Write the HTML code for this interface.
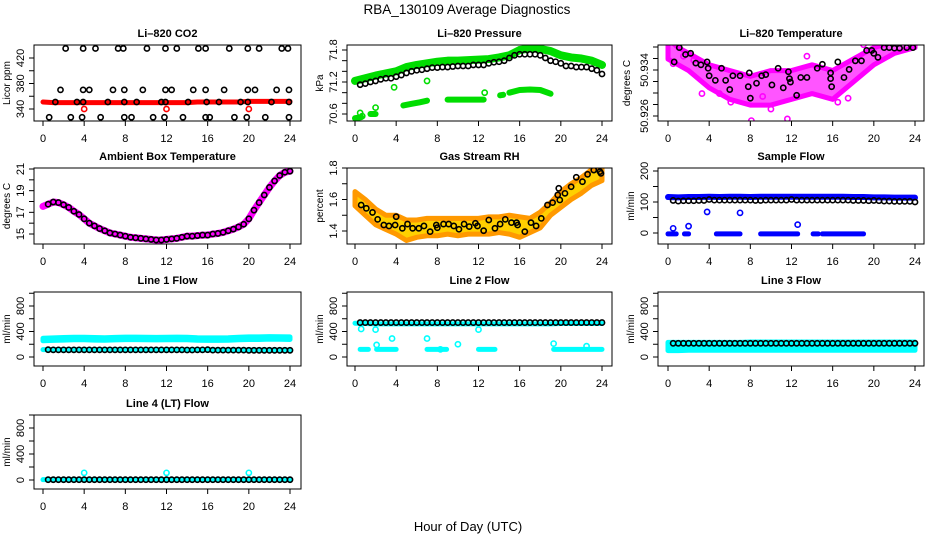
<!DOCTYPE html>
<html><head><meta charset="utf-8"><style>
body{margin:0;background:#fff;}
svg{display:block;font-family:"Liberation Sans",Arial,sans-serif;}
</style></head><body>
<svg id="c" width="936" height="540" viewBox="0 0 936 540">
<text x="467" y="14" font-size="13.5" text-anchor="middle">RBA_130109  Average Diagnostics</text>
<text x="468" y="531" font-size="13" text-anchor="middle">Hour of Day (UTC)</text>
</svg>
<script>
// ---------- data ----------
const hours = [0,1,2,3,4,5,6,7,8,9,10,11,12,13,14,15,16,17,18,19,20,21,22,23,24];
const halfHours = [0.5,1,1.5,2,2.5,3,3.5,4,4.5,5,5.5,6,6.5,7,7.5,8,8.5,9,9.5,10,10.5,11,11.5,12,12.5,13,13.5,14,14.5,15,15.5,16,16.5,17,17.5,18,18.5,19,19.5,20,20.5,21,21.5,22,22.5,23,23.5,24];
const xTicks = [0,4,8,12,16,20,24];

// CO2
const co2Red = [351,350,350,350,350,350,350,350,350,350,350,350,350,350,350,351,351,351,351,351,352,352,352,352,352];
const co2RedOutX = [4,12,20];
const co2RedOutV = [340,340,340];
const co2BlackX = [2.2,3.9,5.1,7.3,7.8,10.1,11.9,13,15.1,15.8,18.1,19.9,21,23.2,23.8,
 1.7,3.9,4.5,6.8,7.9,9.7,11.9,12.5,14.6,15.8,17.6,19.9,20.6,22.7,23.9,
 1.2,3.3,3.9,6.3,7.9,9.1,11.5,11.9,14.1,15.9,17.1,19.2,19.9,22.2,23.9,
 0.6,2.7,3.8,5.6,7.9,8.6,10.7,11.8,13.6,15.8,16.2,18.6,19.8,21.6,23.9];
const co2BlackV = [435,435,435,435,435,435,435,435,435,435,435,435,435,435,435,
 370,370,370,370,370,370,370,370,370,370,370,370,370,370,370,
 351,351,351,351,351,351,351,351,351,351,351,351,351,351,351,
 327,327,327,327,327,327,327,327,327,327,327,327,327,327,327];

// Pressure
const presGreen = [71.22,71.27,71.32,71.36,71.4,71.48,71.52,71.55,71.58,71.6,71.6,71.61,71.62,71.63,71.66,71.7,71.8,71.83,71.82,71.78,71.7,71.66,71.64,71.6,71.52];
const presLowX = [[0,0.6],[1.5,2],[4.7,5.5,6.3,7],[9,10,11,12.5],[14.1,14.4],[15,16,17,18,19]];
const presLowV = [[70.52,70.54],[70.6,70.6],[70.76,70.79,70.82,70.85],[70.87,70.87,70.87,70.87],[70.95,70.96],[71.0,71.05,71.06,71.05,70.98]];
const presOutX = [0.5,0.7,2,3.8,7,12.6];
const presOutV = [70.62,70.56,70.72,71.1,71.22,71.0];
const presBlack = [71.15,71.17,71.2,71.22,71.25,71.27,71.27,71.3,71.33,71.37,71.4,71.42,71.43,71.45,71.47,71.47,71.48,71.48,71.49,71.5,71.5,71.5,71.52,71.52,71.52,71.55,71.57,71.58,71.6,71.65,71.7,71.72,71.72,71.72,71.72,71.7,71.65,71.6,71.58,71.55,71.5,71.5,71.48,71.48,71.48,71.45,71.42,71.35];

// Li-820 temperature
const tempHi = [50.9394,50.9379,50.9369,50.9359,50.9349,50.9344,50.9339,50.9334,50.9329,50.9334,50.9339,50.9339,50.9339,50.9344,50.9349,50.9344,50.9339,50.9349,50.9359,50.9369,50.9379,50.9384,50.9389,50.9394,50.9394];
const tempLo = [50.9359,50.9349,50.9339,50.9324,50.9309,50.9299,50.9289,50.9284,50.9279,50.9279,50.9279,50.9284,50.9289,50.9294,50.9299,50.9294,50.9289,50.9304,50.9319,50.9334,50.9349,50.9359,50.9369,50.9374,50.9379];
const tempPinkX = [0.5,3.3,5,6.1,8.1,10,11.6,16.5,17.5,1.5,2.5,9.2,13.5,19];
const tempPinkV = [50.9351,50.9299,50.9299,50.9284,50.9252,50.9272,50.9255,50.9284,50.9291,50.9364,50.9357,50.9294,50.9364,50.9384];
const tempBlackX = [1.1,0.6,1.7,2.2,2.7,3.2,3.8,3.9,4,4.6,5.2,5.6,6,6.3,7,7.8,7.9,8,8.6,9.1,9.5,10.1,10.7,11.2,11.7,11.8,11.9,12.5,12.9,13.5,14.5,15,15.8,15.8,15.9,16.5,17.1,17.6,18.2,18.8,19.3,19.8,20,20.4,21,21.5,22,22.5,23.2,23.8];
const tempBlackV = [50.9379,50.9354,50.9367,50.9369,50.9352,50.9349,50.9354,50.9343,50.9330,50.9322,50.9343,50.9322,50.9306,50.9330,50.9330,50.9311,50.9335,50.9291,50.9317,50.9330,50.9332,50.9314,50.9343,50.9309,50.9337,50.9325,50.9319,50.9296,50.9327,50.9327,50.9343,50.9350,50.9335,50.9325,50.9311,50.9354,50.9327,50.9341,50.9356,50.9356,50.9374,50.9374,50.9369,50.9362,50.9379,50.9379,50.9378,50.9378,50.9379,50.9379];

// Ambient box temperature
const ambient = [17.75,17.95,17.9,17.7,17.45,17.1,16.8,16.4,16.0,15.75,15.5,15.3,15.1,15.0,14.9,14.8,14.7,14.65,14.6,14.55,14.5,14.45,14.45,14.5,14.55,14.6,14.7,14.8,14.8,14.85,14.9,14.9,15.0,15.05,15.15,15.3,15.45,15.65,15.9,16.4,17.2,17.9,18.6,19.3,19.9,20.4,20.7,20.8];

// Gas stream RH
const rhHi = [1.65,1.6,1.54,1.5,1.5,1.47,1.47,1.48,1.48,1.48,1.48,1.48,1.48,1.49,1.49,1.5,1.49,1.48,1.52,1.58,1.65,1.7,1.74,1.79,1.82];
const rhLo = [1.56,1.5,1.44,1.41,1.38,1.34,1.36,1.37,1.37,1.38,1.37,1.38,1.38,1.38,1.39,1.38,1.36,1.39,1.42,1.5,1.55,1.6,1.64,1.69,1.72];
const rhBlackX = [0.6,1.1,1.7,2.2,2.8,3.3,3.9,4,4.6,5.1,5.6,6.2,6.7,7.3,7.9,8,8.6,9.1,9.6,10.1,10.6,11.1,11.7,11.9,12.5,13,13.6,14.1,14.6,15.2,15.7,15.8,16.5,17.1,17.6,18.1,18.7,19.2,19.7,19.8,19.9,20.4,21,21.5,22.1,22.6,23.2,23.8,23.9];
const rhBlackV = [1.565,1.544,1.518,1.474,1.438,1.432,1.438,1.491,1.417,1.444,1.417,1.417,1.432,1.396,1.438,1.421,1.444,1.444,1.432,1.411,1.444,1.428,1.449,1.432,1.402,1.470,1.417,1.444,1.474,1.453,1.453,1.438,1.396,1.453,1.432,1.480,1.565,1.580,1.629,1.671,1.597,1.639,1.681,1.741,1.713,1.760,1.787,1.777,1.766];

// Sample flow
const sfBlue = [116,115,116,116,117,116,117,117,116,117,117,117,117,117,117,117,117,117,116,116,115,115,114,114,114];
const sfBlackV = [105,103,104,104,104,105,105,108,106,106,106,106,106,106,106,106,105,105,106,106,106,106,106,108,106,106,106,106,106,106,106,106,106,106,106,105,105,105,104,105,104,103,103,102,102,102,102,100];
const sfZeroX = [[0,0.8],[1.6,2.0],[4.7,7.0],[9,12.6],[14.1,14.6],[15,19]];
const sfOutX = [0.5,2,3.8,7,12.6];
const sfOutV = [15,22,68,65,27];

// Line flows
const l1Cyan = [275,280,285,290,290,285,282,288,292,292,290,288,290,292,290,282,280,280,282,290,295,295,300,298,295];
const l1Black = [115,112,112,112,112,112,112,112,112,112,112,112,112,112,112,112,112,112,112,112,112,112,112,112,112,112,112,110,110,112,112,115,108,108,108,108,108,108,108,105,105,105,105,105,105,105,105,105];
const l2Black = [540,540,540,540,540,540,540,540,540,540,540,540,540,540,540,540,540,540,540,540,540,540,540,540,540,540,540,540,540,540,540,540,540,540,540,540,540,540,540,540,540,540,540,540,540,540,540,540];
const l2Cyan = [530,525,520,520,520,520,520,520,520,520,520,520,520,520,520,520,520,520,520,520,525,525,525,525,525];
const l2LowX = [[0.5,1.3],[2.1,4.0],[7.0,8.9],[12.0,13.6],[19.3,24]];
const l2OutX = [0.6,2.0,2.1,3.6,7.0,8.3,10.0,12.0,19.3,22.5];
const l2OutV = [440,430,190,290,290,120,200,430,210,170];
const l3CyanHi = [230,230,230,230,230,230,230,230,235,235,235,235,235,235,235,235,235,235,235,235,235,235,235,235,235];
const l3CyanLo = [100,100,105,105,105,105,105,105,105,105,105,105,105,105,105,105,105,105,105,105,105,105,105,105,105];
const l3Black = [215,215,215,215,215,215,215,215,215,215,215,215,215,215,215,215,215,215,215,215,215,215,215,215,215,215,215,215,215,215,215,215,215,215,215,215,215,215,215,215,215,215,215,215,215,215,215,215];
const l4Black = [5,5,5,5,5,5,5,5,5,5,5,5,5,5,5,5,5,5,5,5,5,5,5,5,5,5,5,5,5,5,5,5,5,5,5,5,5,5,5,5,5,5,5,5,5,5,5,5];
const l4OutX = [4,12,20];
const l4OutV = [110,110,110];

// ---------- drawing ----------
const NS='http://www.w3.org/2000/svg';
const svg=document.getElementById('c');
function el(tag,attrs,parent){const e=document.createElementNS(NS,tag);for(const k in attrs)e.setAttribute(k,attrs[k]);(parent||svg).appendChild(e);return e;}
const colX0=[43,355,668], colL=[34,347,658], colR=[301,612,924];
const rowT=[45,168,292,415], rowB=[121,244,366,489];
const XSPAN=247;

function panel(cfg){
  const g=el('g',{});
  
  
  const L=colL[cfg.col],R=colR[cfg.col],T=rowT[cfg.row],B=rowB[cfg.row],X0=colX0[cfg.col];
  const sx=h=>X0+h*XSPAN/24;
  const k=(cfg.y2-cfg.y1)/(cfg.v2-cfg.v1);
  const sy=v=>cfg.y1+(v-cfg.v1)*k;
  const clip='clip'+cfg.name;
  const cp=el('clipPath',{id:clip},g);el('rect',{x:L,y:T,width:R-L,height:B-T},cp);
  const plot=el('g',{'clip-path':'url(#'+clip+')'},g);
  
  
  const t=el('text',{x:(L+R)/2,y:T-8,'font-size':11,'font-weight':'bold','text-anchor':'middle'},g);
  t.textContent=cfg.title;
  
  
  const yl=el('text',{x:0,y:0,'font-size':10,'text-anchor':'middle',transform:`translate(${L-(cfg.ylabOff||24)},${(T+B)/2}) rotate(-90)`},g);
  yl.textContent=cfg.ylab;
  
  
  el('line',{x1:sx(0),x2:sx(24),y1:B,y2:B,stroke:'#000'},g);
  xTicks.forEach(h=>{
    el('line',{x1:sx(h),x2:sx(h),y1:B,y2:B+5,stroke:'#000'},g);
    const tx=el('text',{x:sx(h),y:B+21,'font-size':11,'text-anchor':'middle'},g);
    tx.textContent=h;
    
    
  });
  const ty=cfg.ticks.map(sy);
  el('line',{x1:L,x2:L,y1:Math.min(...ty),y2:Math.max(...ty),stroke:'#000'},g);
  cfg.ticks.forEach(v=>el('line',{x1:L-5,x2:L,y1:sy(v),y2:sy(v),stroke:'#000'},g));
  cfg.labels.forEach(v=>{
    const tl=el('text',{x:0,y:0,'font-size':11,'text-anchor':'middle',transform:`translate(${L-10},${sy(parseFloat(v))}) rotate(-90)`},g);
    tl.textContent=v;
    
    
  });
  el('rect',{x:L,y:T,width:R-L,height:B-T,fill:'none',stroke:'#000'},g);
  return {sx,sy,plot};
}
function circles(p,xs,vs,color,name,r){
  xs.forEach((x,i)=>{
    const c=el('circle',{cx:p.sx(x),cy:p.sy(vs[i]),r:r||2.6,fill:'none',stroke:color,'stroke-width':1.6},p.plot);
    
    
  });
}
function line(p,xs,vs,color,w,name){
  const pl=el('polyline',{points:xs.map((x,i)=>p.sx(x)+','+p.sy(vs[i])).join(' '),fill:'none',stroke:color,'stroke-width':w,'stroke-linecap':'round','stroke-linejoin':'round'},p.plot);
  
  
}
function band(p,xs,hi,lo,fill,stroke,name){
  const pts=xs.map((x,i)=>p.sx(x)+','+p.sy(hi[i])).concat(xs.slice().reverse().map((x,j)=>p.sx(x)+','+p.sy(lo[xs.length-1-j])));
  const pg=el('polygon',{points:pts.join(' '),fill:fill,stroke:stroke,'stroke-width':5,'stroke-linejoin':'round'},p.plot);
  
  
}

let p=panel({name:'co2-panel',col:0,row:0,title:'Li\u2013820 CO2',ylab:'Licor ppm',v1:340,y1:109,v2:420,y2:58,ticks:[340,360,380,400,420],labels:[340,380,420]});
line(p,hours,co2Red,'#ff0000',5,'co2-red-series');
circles(p,co2RedOutX,co2RedOutV,'#ff0000','co2-red-outlier');
circles(p,co2BlackX,co2BlackV,'#000','co2-black-point');

p=panel({name:'pressure-panel',col:1,row:0,title:'Li\u2013820 Pressure',ylab:'kPa',v1:70.6,y1:114,v2:71.8,y2:50,ticks:[70.6,70.8,71.0,71.2,71.4,71.6,71.8],labels:[70.6,71.2,71.8]});
line(p,hours,presGreen,'#00dd00',8,'pressure-green-series');
presLowX.forEach((xs,i)=>line(p,xs,presLowV[i],'#00dd00',6,'pressure-green-low-segment'));
circles(p,presOutX,presOutV,'#00dd00','pressure-green-outlier');
circles(p,halfHours,presBlack,'#000','pressure-black-point');

p=panel({name:'licor-temp-panel',col:2,row:0,title:'Li\u2013820 Temperature',ylab:'degrees C',ylabOff:28,v1:50.934,y1:70,v2:50.926,y2:116,ticks:[50.926,50.928,50.930,50.932,50.934,50.936,50.938],labels:['50.926','50.934']});
band(p,hours,tempHi,tempLo,'#ff55ff','#ff00ff','licor-temp-magenta-cloud');
circles(p,tempPinkX,tempPinkV,'#ff00ff','licor-temp-magenta-point');
circles(p,tempBlackX,tempBlackV,'#000','licor-temp-black-point');

p=panel({name:'ambient-panel',col:0,row:1,title:'Ambient Box Temperature',ylab:'degrees C',v1:15,y1:234,v2:21,y2:169,ticks:[15,16,17,18,19,20,21],labels:[15,17,19,21]});
line(p,[0].concat(halfHours),[17.55].concat(ambient),'#ff00ff',7,'ambient-magenta-series');
circles(p,halfHours,ambient,'#000','ambient-black-point');

p=panel({name:'rh-panel',col:1,row:1,title:'Gas Stream RH',ylab:'percent',v1:1.4,y1:231,v2:1.8,y2:168,ticks:[1.4,1.5,1.6,1.7,1.8],labels:[1.4,1.6,1.8]});
band(p,hours,rhHi,rhLo,'#ffd000','#ff9900','rh-orange-cloud');
circles(p,rhBlackX,rhBlackV,'#000','rh-black-point');

p=panel({name:'sample-flow-panel',col:2,row:1,title:'Sample Flow',ylab:'ml/min',v1:0,y1:233,v2:200,y2:171,ticks:[0,50,100,150,200],labels:[0,100,200]});
line(p,hours,sfBlue,'#0000ff',6,'sample-flow-blue-series');
sfZeroX.forEach(xs=>line(p,xs,xs.map(()=>-3),'#0000ff',5,'sample-flow-blue-zero-segment'));
circles(p,sfOutX,sfOutV,'#0000ff','sample-flow-blue-outlier');
circles(p,halfHours,sfBlackV,'#000','sample-flow-black-point');

const flowTicks=[0,200,400,600,800,1000], flowLabels=[0,400,800];
p=panel({name:'line1-panel',col:0,row:2,title:'Line 1 Flow',ylab:'ml/min',v1:0,y1:357,v2:800,y2:306,ticks:flowTicks,labels:flowLabels});
band(p,hours,l1Cyan.map(v=>v+20),l1Cyan.map(v=>v-20),'#00ffff','#00ffff','line1-cyan-band');
line(p,[0,24],[115,110],'#00ffff',5,'line1-cyan-low');
circles(p,halfHours,l1Black,'#000','line1-black-point');

p=panel({name:'line2-panel',col:1,row:2,title:'Line 2 Flow',ylab:'ml/min',v1:0,y1:357,v2:800,y2:306,ticks:flowTicks,labels:flowLabels});
line(p,hours,l2Cyan,'#00ffff',5,'line2-cyan-series');
l2LowX.forEach(xs=>line(p,xs,xs.map(()=>120),'#00ffff',5,'line2-cyan-low-segment'));
circles(p,l2OutX,l2OutV,'#00ffff','line2-cyan-outlier');
circles(p,halfHours,l2Black,'#000','line2-black-point');

p=panel({name:'line3-panel',col:2,row:2,title:'Line 3 Flow',ylab:'ml/min',v1:0,y1:357,v2:800,y2:306,ticks:flowTicks,labels:flowLabels});
band(p,hours,l3CyanHi,l3CyanLo,'#00ffff','#00ffff','line3-cyan-band');
circles(p,halfHours,l3Black,'#000','line3-black-point');

p=panel({name:'line4-panel',col:0,row:3,title:'Line 4 (LT) Flow',ylab:'ml/min',v1:0,y1:480,v2:800,y2:428,ticks:flowTicks,labels:flowLabels});
line(p,[0,24],[5,5],'#00ffff',5,'line4-cyan-series');
circles(p,l4OutX,l4OutV,'#00ffff','line4-cyan-outlier');
circles(p,halfHours,l4Black,'#000','line4-black-point');
</script>
</body></html>
